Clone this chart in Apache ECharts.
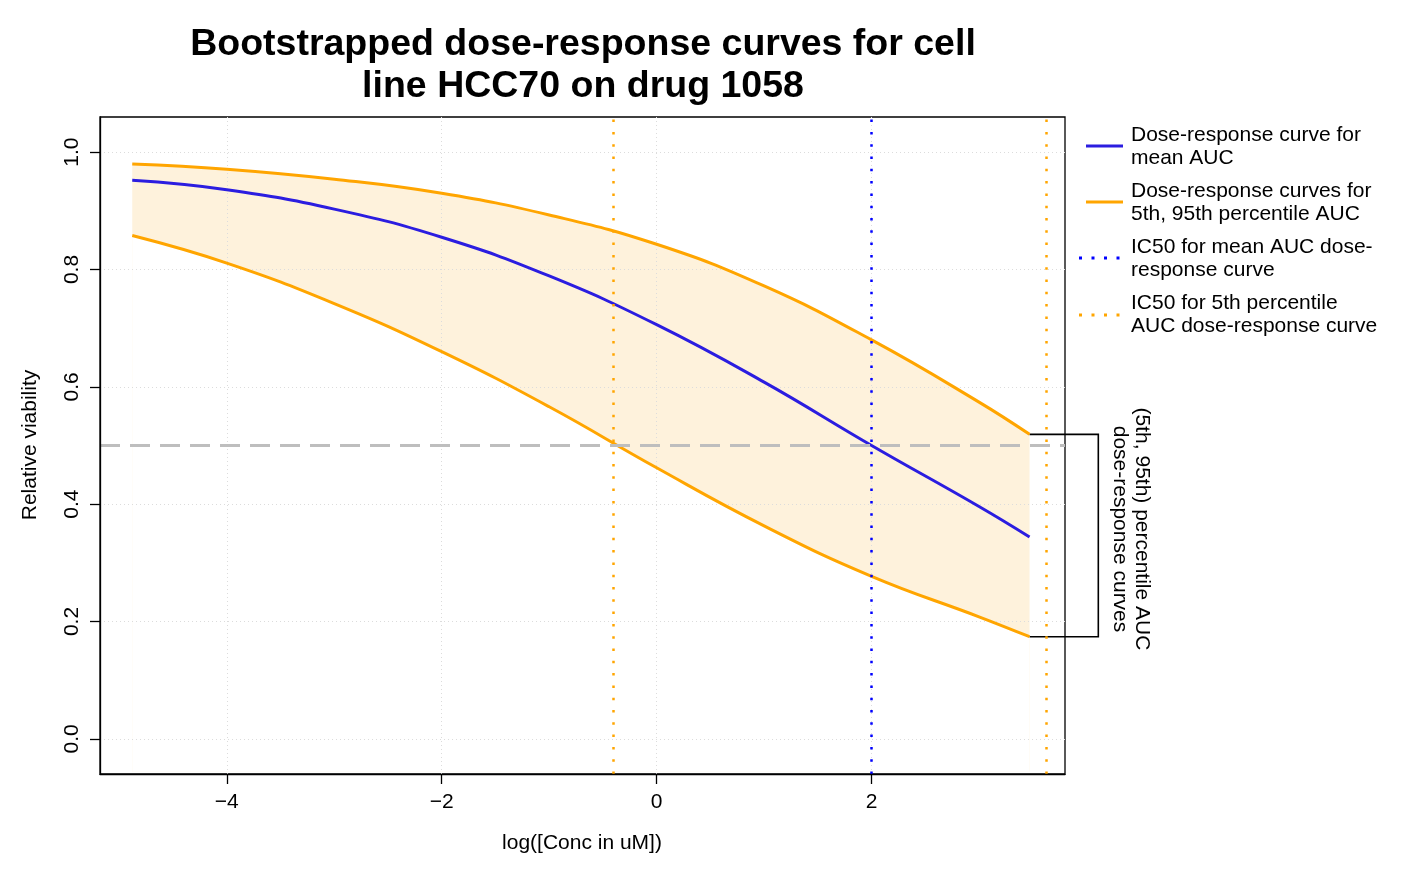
<!DOCTYPE html>
<html>
<head>
<meta charset="utf-8">
<script src="https://cdn.jsdelivr.net/npm/echarts@6/dist/echarts.min.js"></script>
<style>
  html, body { margin: 0; padding: 0; background: #fff; }
  #chart { width: 1401px; height: 869px; }
</style>
</head>
<body>
<div id="chart"></div>
<script>
// log concentration at which the curves were read
const logConc = [-4.88, -4, -3, -2, -1, 0, 1, 2, 3, 3.47]
// curve for the mean AUC
const meanCurve = [0.952, 0.936, 0.903, 0.855, 0.789, 0.706, 0.608, 0.500, 0.396, 0.344]
// 95th / 5th percentile AUC curves
const upperCurve = [0.980, 0.971, 0.954, 0.930, 0.893, 0.843, 0.772, 0.680, 0.574, 0.519]
const lowerCurve = [0.858, 0.811, 0.742, 0.660, 0.566, 0.462, 0.363, 0.277, 0.208, 0.174]
// IC50 positions
const ic50Mean = [2]
const ic50Pct = [-0.4, 3.63]
const halfViability = 0.5
// tick labels
const xTicks = [-4, -2, 0, 2]
const yTicks = [0, 0.2, 0.4, 0.6, 0.8, 1.0]
// where the bracket's vertical bar sits (log conc)
const bracketX = 4.11

const FONT = '"Liberation Sans", Arial, Helvetica, sans-serif'
const ORANGE = '#FFA500'
const BLUE = '#2b1de0'
const SMOOTH = 0.45
const Y_MIN = -0.06
const Y_MAX = 1.06

const chartBox = echarts.init(document.getElementById('chart'))

const toPairs = arr => logConc.map((x, i) => [x, arr[i]])
const last = logConc.length - 1
const bracket = [
  [logConc[last], upperCurve[last]],
  [bracketX, upperCurve[last]],
  [bracketX, lowerCurve[last]],
  [logConc[last], lowerCurve[last]]
]

const curve = (name, arr, color, z) => ({
  name: name,
  type: 'line',
  data: toPairs(arr),
  smooth: SMOOTH,
  symbol: 'none',
  lineStyle: { color: color, width: 3 },
  z: z
})

const option = {
  animation: false,
  backgroundColor: '#fff',
  textStyle: { fontFamily: FONT },
  grid: {
    left: 100,
    top: 117,
    width: 965,
    height: 657,
    show: true,
    borderColor: '#000',
    borderWidth: 1.3,
    backgroundColor: 'transparent'
  },
  xAxis: {
    type: 'value',
    min: -5.18,
    max: 3.80,
    z: 10,
    axisLine: { show: true, onZero: false, lineStyle: { color: '#000', width: 1.3 } },
    axisTick: { show: true, length: 10, customValues: xTicks, lineStyle: { color: '#000', width: 1.3 } },
    axisLabel: {
      customValues: xTicks,
      fontSize: 21,
      color: '#000',
      margin: 18,
      fontFamily: FONT,
      formatter: v => String(v).replace('-', '\u2212')
    },
    splitLine: { show: false }
  },
  yAxis: {
    type: 'value',
    min: Y_MIN,
    max: Y_MAX,
    z: 10,
    axisLine: { show: true, onZero: false, lineStyle: { color: '#000', width: 1.3 } },
    axisTick: { show: true, length: 10, customValues: yTicks, lineStyle: { color: '#000', width: 1.3 } },
    axisLabel: {
      customValues: yTicks,
      rotate: 90,
      fontSize: 21,
      color: '#000',
      margin: 17,
      fontFamily: FONT,
      formatter: v => v.toFixed(1)
    },
    splitLine: { show: false }
  },
  series: [
    // pale band: fill under the upper curve, then cut away under the lower curve
    {
      name: 'bandTop',
      type: 'line',
      data: toPairs(upperCurve),
      smooth: SMOOTH,
      symbol: 'none',
      silent: true,
      lineStyle: { opacity: 0 },
      areaStyle: { color: '#fef2dc', opacity: 1, origin: Y_MIN + 0.004 },
      z: 1
    },
    {
      name: 'bandCut',
      type: 'line',
      data: toPairs(lowerCurve),
      smooth: SMOOTH,
      symbol: 'none',
      silent: true,
      lineStyle: { opacity: 0 },
      areaStyle: { color: '#ffffff', opacity: 1, origin: Y_MIN + 0.004 },
      z: 2,
      markLine: {
        z: 3,
        silent: true,
        symbol: 'none',
        label: { show: false },
        lineStyle: { color: '#dcdcdc', width: 1, type: [1, 3] },
        data: xTicks.map(v => ({ xAxis: v })).concat(yTicks.map(v => ({ yAxis: v })))
      }
    },
    curve('lower', lowerCurve, ORANGE, 4),
    Object.assign(curve('upper', upperCurve, ORANGE, 4), {
      markLine: {
        z: 5,
        silent: true,
        symbol: 'none',
        label: { show: false },
        lineStyle: { color: ORANGE, width: 2.5, type: [2.5, 9.8] },
        data: ic50Pct.map(v => ({ xAxis: v }))
      }
    }),
    Object.assign(curve('mean', meanCurve, BLUE, 4), {
      markLine: {
        z: 5,
        silent: true,
        symbol: 'none',
        label: { show: false },
        data: [
          { xAxis: ic50Mean[0], lineStyle: { color: '#0000ff', width: 2.5, type: [2.5, 9.8] } },
          { yAxis: halfViability, lineStyle: { color: '#bebebe', width: 3, type: [20, 10] } }
        ]
      }
    }),
    {
      name: 'bracket',
      type: 'custom',
      data: bracket,
      clip: false,
      z: 4,
      renderItem: function (params, api) {
        if (params.dataIndex !== 0) return
        return {
          type: 'polyline',
          shape: { points: bracket.map(p => api.coord(p)) },
          style: { stroke: '#000', lineWidth: 1.6, fill: null }
        }
      }
    }
  ],
  graphic: [
    {
      type: 'text',
      x: 583,
      y: 66,
      style: {
        text: 'Bootstrapped dose-response curves for cell\nline HCC70 on drug 1058',
        font: 'bold 37.5px ' + FONT,
        lineHeight: 42,
        fill: '#000',
        align: 'center',
        verticalAlign: 'middle'
      }
    },
    {
      type: 'text',
      x: 582,
      y: 843,
      style: { text: 'log([Conc in uM])', font: '21px ' + FONT, fill: '#000', align: 'center', verticalAlign: 'middle' }
    },
    {
      type: 'text',
      x: 30,
      y: 445,
      rotation: Math.PI / 2,
      style: { text: 'Relative viability', font: '21px ' + FONT, fill: '#000', align: 'center', verticalAlign: 'middle' }
    },
    {
      type: 'text',
      x: 1131,
      y: 529,
      rotation: -Math.PI / 2,
      style: {
        text: '(5th, 95th) percentile AUC\ndose-response curves',
        font: '21px ' + FONT,
        lineHeight: 22,
        fill: '#000',
        align: 'center',
        verticalAlign: 'middle'
      }
    },
    // legend
    { type: 'line', shape: { x1: 1086, y1: 146, x2: 1123, y2: 146 }, style: { stroke: BLUE, lineWidth: 3 } },
    { type: 'line', shape: { x1: 1086, y1: 202, x2: 1123, y2: 202 }, style: { stroke: ORANGE, lineWidth: 3 } },
    { type: 'line', shape: { x1: 1079, y1: 258, x2: 1124, y2: 258 }, style: { stroke: '#0000ff', lineWidth: 3, lineDash: [3, 9.5] } },
    { type: 'line', shape: { x1: 1079, y1: 315, x2: 1124, y2: 315 }, style: { stroke: ORANGE, lineWidth: 3, lineDash: [3, 9.5] } },
    {
      type: 'text', x: 1131, y: 147,
      style: { text: 'Dose-response curve for\nmean AUC', font: '21px ' + FONT, lineHeight: 23, fill: '#000', verticalAlign: 'middle' }
    },
    {
      type: 'text', x: 1131, y: 203,
      style: { text: 'Dose-response curves for\n5th, 95th percentile AUC', font: '21px ' + FONT, lineHeight: 23, fill: '#000', verticalAlign: 'middle' }
    },
    {
      type: 'text', x: 1131, y: 259,
      style: { text: 'IC50 for mean AUC dose-\nresponse curve', font: '21px ' + FONT, lineHeight: 23, fill: '#000', verticalAlign: 'middle' }
    },
    {
      type: 'text', x: 1131, y: 315,
      style: { text: 'IC50 for 5th percentile\nAUC dose-response curve', font: '21px ' + FONT, lineHeight: 23, fill: '#000', verticalAlign: 'middle' }
    }
  ]
}

chartBox.setOption(option, true)
window.addEventListener('resize', function () {
  chartBox.resize()
})
</script>
</body>
</html>
